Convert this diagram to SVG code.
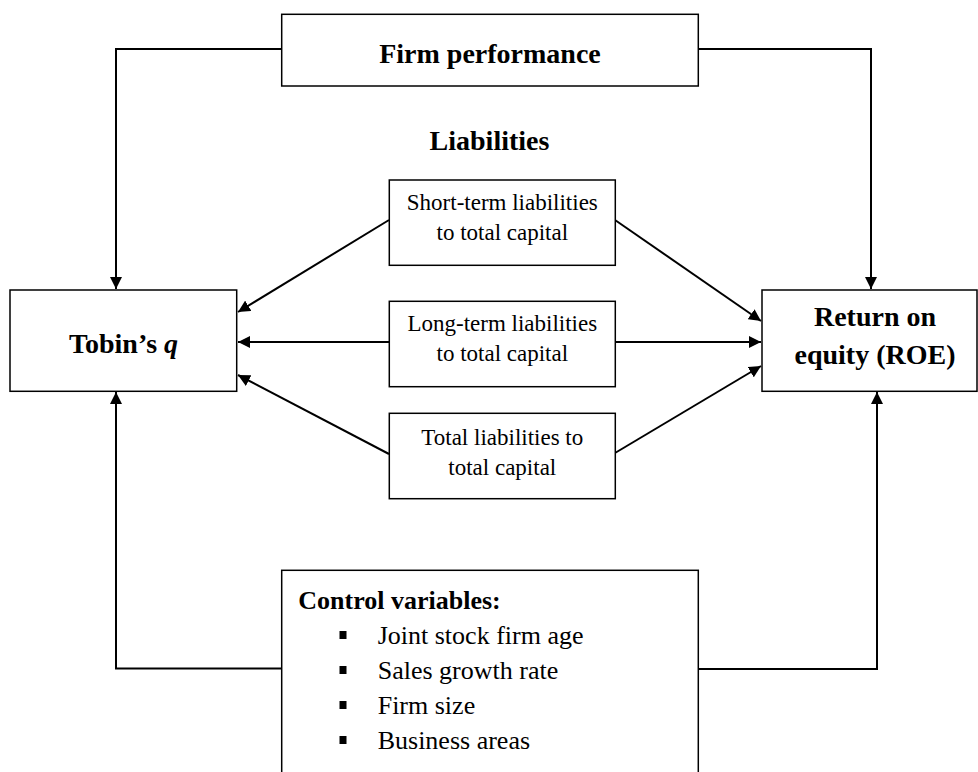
<svg xmlns="http://www.w3.org/2000/svg" width="978" height="772" viewBox="0 0 978 772">
<style>
.box{fill:#fff;stroke:#000;stroke-width:1.5}
.con{fill:none;stroke:#000;stroke-width:2}
.t{font-family:"Liberation Serif","Times New Roman",serif;fill:#000}
.b{font-weight:bold;font-size:28px}
.s{font-size:23px}
.c{font-size:26px}
</style>
<defs>
<marker id="ah" markerUnits="userSpaceOnUse" markerWidth="13" markerHeight="12" refX="12" refY="6" orient="auto">
<path d="M0,0 L12,6 L0,12 z" fill="#000"/>
</marker>
</defs>
<rect width="978" height="772" fill="#fff"/>
<g id="connectors">
<polyline class="con" points="282,49 116,49 116,289" marker-end="url(#ah)"/>
<polyline class="con" points="698,49 871,49 871,289" marker-end="url(#ah)"/>
<line class="con" x1="389" y1="220" x2="238" y2="312" marker-end="url(#ah)"/>
<line class="con" x1="615" y1="220" x2="761" y2="321" marker-end="url(#ah)"/>
<line class="con" x1="389" y1="342" x2="238" y2="342" marker-end="url(#ah)"/>
<line class="con" x1="615" y1="342" x2="761" y2="342" marker-end="url(#ah)"/>
<line class="con" x1="389" y1="454" x2="238" y2="375" marker-end="url(#ah)"/>
<line class="con" x1="615" y1="453" x2="761" y2="366" marker-end="url(#ah)"/>
<polyline class="con" points="282,668.5 116,668.5 116,392" marker-end="url(#ah)"/>
<polyline class="con" points="698,669 877,669 877,392" marker-end="url(#ah)"/>
</g>
<g id="firm-performance">
<rect class="box" x="281.7" y="14.3" width="416.6" height="71.7"/>
<text class="t b" x="490" y="63" text-anchor="middle">Firm performance</text>
</g>
<g id="liabilities-label">
<text class="t b" x="489.5" y="150" text-anchor="middle">Liabilities</text>
</g>
<g id="short-term">
<rect class="box" x="389.3" y="180" width="226" height="85.3"/>
<text class="t s" x="502.3" y="210" text-anchor="middle">Short-term liabilities</text>
<text class="t s" x="502.3" y="240" text-anchor="middle">to total capital</text>
</g>
<g id="long-term">
<rect class="box" x="389.3" y="301.3" width="226" height="85.4"/>
<text class="t s" x="502.3" y="331" text-anchor="middle">Long-term liabilities</text>
<text class="t s" x="502.3" y="361" text-anchor="middle">to total capital</text>
</g>
<g id="total">
<rect class="box" x="389.3" y="413.3" width="226" height="85.4"/>
<text class="t s" x="502.3" y="445" text-anchor="middle">Total liabilities to</text>
<text class="t s" x="502.3" y="475" text-anchor="middle">total capital</text>
</g>
<g id="tobins-q">
<rect class="box" x="10" y="290" width="226.7" height="101.3"/>
<text class="t b" x="123.5" y="353" text-anchor="middle">Tobin’s <tspan font-style="italic">q</tspan></text>
</g>
<g id="roe">
<rect class="box" x="762" y="290" width="215" height="101.3"/>
<text class="t b" x="875" y="326" text-anchor="middle">Return on</text>
<text class="t b" x="875" y="364" text-anchor="middle">equity (ROE)</text>
</g>
<g id="control-variables">
<rect class="box" x="281.7" y="570.3" width="416.6" height="230"/>
<text class="t c" font-weight="bold" x="298.3" y="609">Control variables:</text>
<rect x="339.5" y="631" width="7" height="8" fill="#000"/>
<rect x="339.5" y="666" width="7" height="8" fill="#000"/>
<rect x="339.5" y="701" width="7" height="8" fill="#000"/>
<rect x="339.5" y="736" width="7" height="8" fill="#000"/>
<text class="t c" x="377.7" y="644">Joint stock firm age</text>
<text class="t c" x="377.7" y="679">Sales growth rate</text>
<text class="t c" x="377.7" y="714">Firm size</text>
<text class="t c" x="377.7" y="749">Business areas</text>
</g>
</svg>
